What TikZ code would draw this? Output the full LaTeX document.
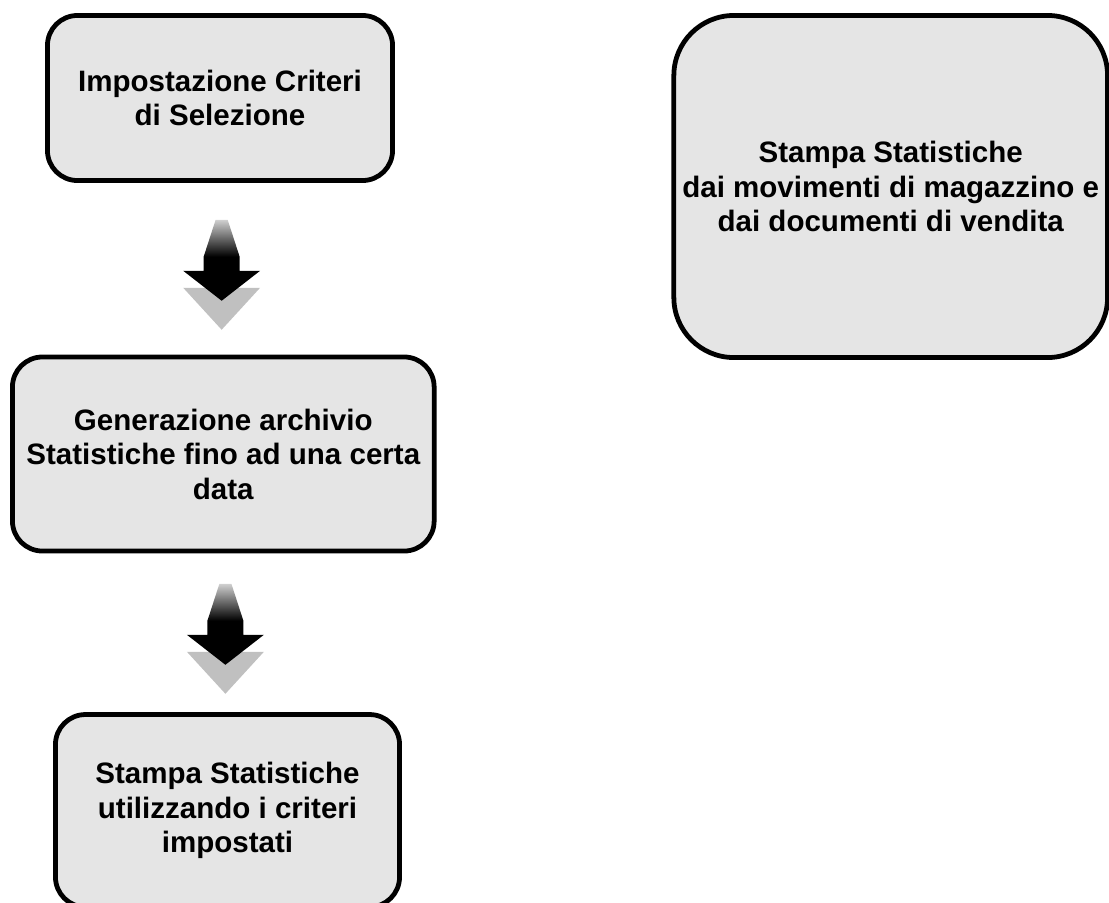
\documentclass[tikz,border=0pt]{standalone}
\usepackage{fontspec}
\setmainfont{Liberation Sans}
\usetikzlibrary{calc}

\definecolor{boxgray}{HTML}{E5E5E5}
\definecolor{shadowgray}{HTML}{C0C0C0}
\definecolor{nibgray}{HTML}{D0D0D0}

\begin{document}
\begin{tikzpicture}[
    x=0.025cm, y=-0.025cm, % one unit = one pixel of the reference
    every node/.style={font=\bfseries\fontsize{21}{24.5}\selectfont, align=center},
    stepbox/.style={draw=black, fill=boxgray, line width=3.4pt, rounded corners=0.75cm, inner sep=0pt}, % Box style
    bigbox/.style={stepbox, rounded corners=1.5cm}
]
    \useasboundingbox (0,0) rectangle (1109,902);

    % --- LEFT COLUMN (Steps) ---
    \node[stepbox, minimum width=8.625cm, minimum height=4.125cm] (imp) at (220,98)
        {Impostazione Criteri\\di Selezione};
    \node[stepbox, minimum width=10.54cm, minimum height=4.85cm] (gen) at (223.3,454)
        {Generazione archivio\\Statistiche fino ad una certa\\data};
    \node[stepbox, minimum width=8.6cm, minimum height=4.81cm] (rep) at (227.5,810.75)
        {Stampa Statistiche\\utilizzando i criteri\\impostati};

    % --- RIGHT BOX (Print) ---
    \node[bigbox, minimum width=10.84cm, minimum height=8.55cm] (mov) at (890.7,186.5)
        {Stampa Statistiche\\dai movimenti di magazzino e\\dai documenti di vendita};

    % --- ARROWS ---
    \foreach \a/\b in {imp/gen, gen/rep} {
        \begin{scope}[shift={($(\a.south)!0.5!(\b.north)$)}]
            % Shadow head
            \fill[shadowgray] (-38.5,19) -- (38.5,19) -- (0,61) -- cycle;
            % Black head
            \fill[black] (-18,-12) -- (18,-12) -- (18,2) -- (38.5,2)
                -- (0,32) -- (-38.5,2) -- (-18,2) -- cycle;
            % Shaded shaft
            \shade[top color=nibgray, bottom color=black]
                (-6,-49) -- (6,-49) -- (18,-12) -- (-18,-12) -- cycle;
        \end{scope}
    }

\end{tikzpicture}
\end{document}
